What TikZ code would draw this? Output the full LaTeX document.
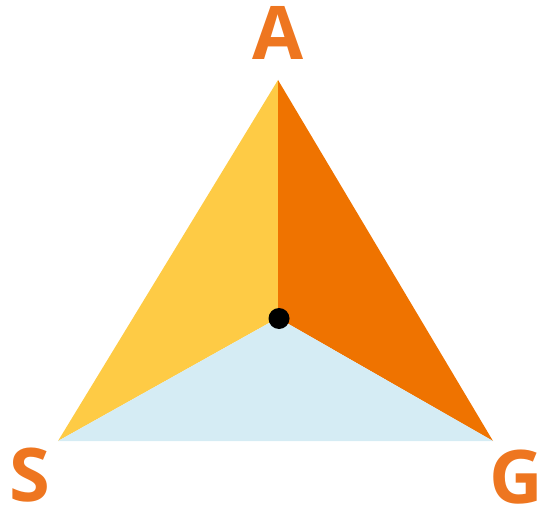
\documentclass[tikz,border=0pt]{standalone}
\usepackage{fontspec}
\setmainfont{Open Sans}
\definecolor{cyellow}{HTML}{FECB45}
\definecolor{corange}{HTML}{EF7300}
\definecolor{cblue}{HTML}{D5ECF4}
\definecolor{clabel}{HTML}{EE7620}
\begin{document}
\begin{tikzpicture}[x=1pt,y=-1pt,
  lab/.style={text=clabel,font=\fontsize{74}{74}\selectfont\bfseries,inner sep=0pt}]
\useasboundingbox (0,0) rectangle (540,505);
\clip (0,0) rectangle (540,505);
\coordinate (top) at (278,80);
\coordinate (sl) at (58,441);
\coordinate (gr) at (493,441);
\coordinate (c) at (278,318);
\fill[cyellow] (top) -- (c) -- (sl) -- cycle;
\fill[corange] (top) -- (gr) -- (c) -- cycle;
\fill[cblue] (sl) -- (c) -- (gr) -- cycle;
\fill[black] (279,318.5) circle (10.5);
\node[lab,anchor=base] (A) at (278,60) {A};
\node[lab,anchor=base] (S) at (29.5,501) {S};
\node[lab,anchor=base west] (G) at (489,503) {G};
\end{tikzpicture}
\end{document}
